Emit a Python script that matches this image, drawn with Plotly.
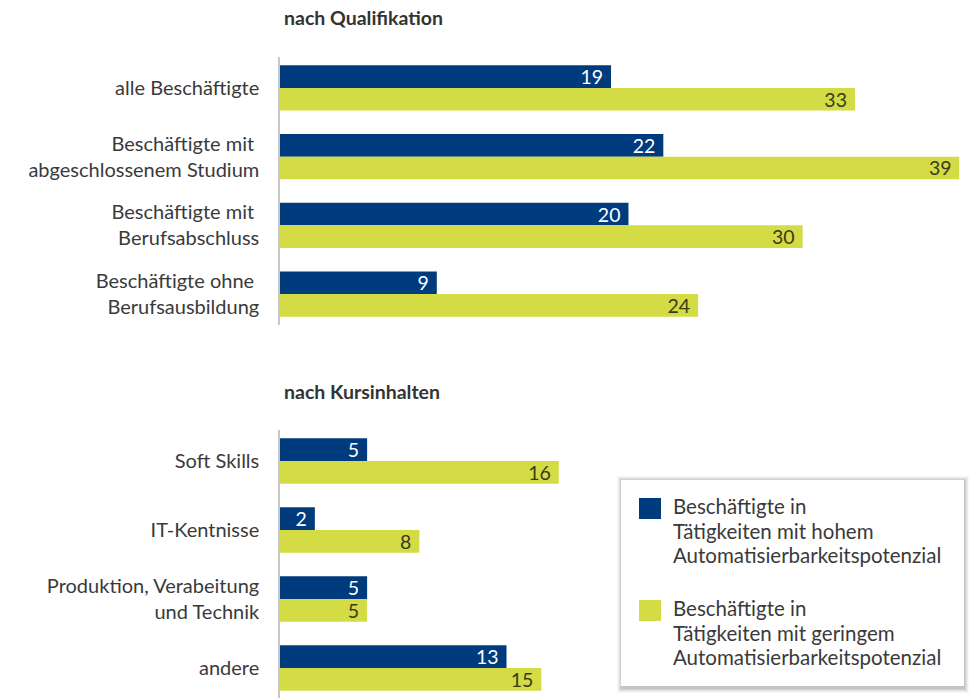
import plotly.graph_objects as go

W, H = 969, 698

# Series names
series_names = [
    "Beschäftigte in<br>Tätigkeiten mit hohem<br>Automatisierbarkeitspotenzial",
    "Beschäftigte in<br>Tätigkeiten mit geringem<br>Automatisierbarkeitspotenzial",
]
colors = ["#003b7e", "#d3dc45"]
text_colors = ["#ffffff", "#3a3a1a"]

# Panel 1: by qualification
qual_title = "nach Qualifikation"
qual_cats = [
    "alle Beschäftigte",
    "Beschäftigte mit\u00a0<br>abgeschlossenem Studium",
    "Beschäftigte mit\u00a0<br>Berufsabschluss",
    "Beschäftigte ohne\u00a0<br>Berufsausbildung",
]
qual_high = [19, 22, 20, 9]
qual_low = [33, 39, 30, 24]

# Panel 2: by course content
kurs_title = "nach Kursinhalten"
kurs_cats = [
    "Soft Skills",
    "IT-Kentnisse",
    "Produktion, Verabeitung<br>und Technik",
    "andere",
]
kurs_high = [5, 2, 5, 13]
kurs_low = [16, 8, 5, 15]

FONT = "Lato, 'Open Sans', sans-serif"
TXT = "#3a3a3a"


def px_x(p):
    return p / W


def px_y(p):
    return 1 - p / H


fig = go.Figure()

panels = [
    ("y", qual_cats, [qual_high, qual_low]),
    ("y2", kurs_cats, [kurs_high, kurs_low]),
]
for axis, cats, vals in panels:
    for i, v in enumerate(vals):
        fig.add_trace(go.Bar(
            y=cats, x=v, orientation="h", yaxis=axis, xaxis="x",
            marker=dict(color=colors[i], line=dict(width=0)),
            name=series_names[i], showlegend=False,
            text=[f"{n}\u00a0" for n in v],
            textposition="inside", insidetextanchor="end", textangle=0,
            textfont=dict(family=FONT, size=19.5, color=text_colors[i]),
            constraintext="none", cliponaxis=False,
            offsetgroup=str(i), hoverinfo="skip",
        ))

axis_common = dict(
    type="category", showline=True, linecolor="#c8c8c8", linewidth=1.5,
    showgrid=False, zeroline=False, ticks="", ticklabelstandoff=15,
    tickfont=dict(family=FONT, size=20, color=TXT),
)

fig.update_layout(
    width=W, height=H,
    margin=dict(l=0, r=0, t=0, b=0),
    paper_bgcolor="white", plot_bgcolor="white",
    barmode="group", bargap=0.34, bargroupgap=0,
    showlegend=False,
    uniformtext=dict(minsize=19, mode="show"),
    xaxis=dict(domain=[px_x(280), px_x(959.5)], range=[0, 39],
               showgrid=False, zeroline=False, showticklabels=False,
               showline=False, anchor="y2"),
    yaxis=dict(domain=[px_y(325), px_y(57)], range=[3.45, -0.45],
               anchor="x", **axis_common),
    yaxis2=dict(domain=[0, px_y(430)], range=[3.435, -0.45],
                anchor="x", **axis_common),
    font=dict(family=FONT, color=TXT),
)

annotations = [
    dict(text=f"<b>{qual_title}</b>", x=px_x(282), y=px_y(18), xref="paper", yref="paper",
         xanchor="left", yanchor="middle", showarrow=False,
         font=dict(family=FONT, size=19.5, color="#333333")),
    dict(text=f"<b>{kurs_title}</b>", x=px_x(282), y=px_y(391), xref="paper", yref="paper",
         xanchor="left", yanchor="middle", showarrow=False,
         font=dict(family=FONT, size=19.5, color="#333333")),
]

# Legend box with soft drop shadow
shapes = []
bx0, by0, bx1, by1 = 621, 480, 964, 686
for k, op in enumerate([0.03, 0.04, 0.05, 0.06, 0.07]):
    off = 5 - k
    shapes.append(dict(type="rect", xref="paper", yref="paper",
                       x0=px_x(bx0 - off + 1), x1=px_x(bx1 + off),
                       y0=px_y(by1 + off + 2), y1=px_y(by0 - off + 1),
                       fillcolor=f"rgba(0,0,0,{op})", line=dict(width=0), layer="above"))
shapes.append(dict(type="rect", xref="paper", yref="paper",
                   x0=px_x(bx0), x1=px_x(bx1), y0=px_y(by1), y1=px_y(by0),
                   fillcolor="white", line=dict(width=0), layer="above"))

# Legend entries: swatch plus one text line per row
legend_tops = [498, 600]
line_step = 24.5
for i, name in enumerate(series_names):
    t = legend_tops[i]
    shapes.append(dict(type="rect", xref="paper", yref="paper",
                       x0=px_x(639), x1=px_x(661), y0=px_y(t + 21), y1=px_y(t),
                       fillcolor=colors[i], line=dict(width=0), layer="above"))
    for j, line in enumerate(name.split("<br>")):
        annotations.append(dict(text=line, x=px_x(671), y=px_y(t + 8 + j * line_step),
                                xref="paper", yref="paper",
                                xanchor="left", yanchor="middle", align="left", showarrow=False,
                                font=dict(family=FONT, size=20.5, color=TXT)))

fig.update_layout(shapes=shapes, annotations=annotations)

fig.write_html("out.html")
